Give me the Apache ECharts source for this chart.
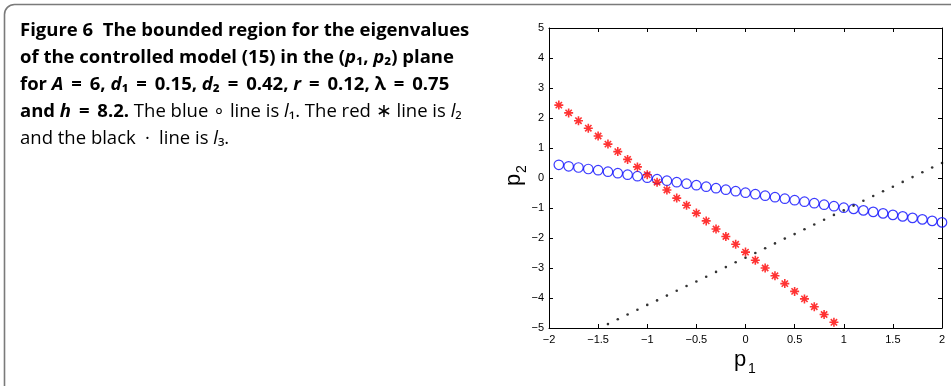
<!DOCTYPE html>
<html><head><meta charset="utf-8">
<script src="https://cdn.jsdelivr.net/npm/echarts@6/dist/echarts.min.js"></script>
<style>html,body{margin:0;padding:0;background:#fff}#c{width:951px;height:386px}</style>
</head><body><div id="c"></div>
<script>
// ---- data ----
const blueX = [-1.9,-1.8,-1.7,-1.6,-1.5,-1.4,-1.3,-1.2,-1.1,-1.0,-0.9,-0.8,-0.7,-0.6,-0.5,-0.4,-0.3,-0.2,-0.1,0,0.1,0.2,0.3,0.4,0.5,0.6,0.7,0.8,0.9,1.0,1.1,1.2,1.3,1.4,1.5,1.6,1.7,1.8,1.9,2.0];
const blueY = [0.44,0.39,0.35,0.30,0.26,0.21,0.16,0.11,0.06,0.01,-0.04,-0.09,-0.14,-0.19,-0.24,-0.29,-0.34,-0.39,-0.44,-0.49,-0.54,-0.59,-0.64,-0.69,-0.74,-0.79,-0.84,-0.89,-0.94,-0.99,-1.03,-1.08,-1.13,-1.18,-1.23,-1.28,-1.33,-1.38,-1.43,-1.48];
const redX = [-1.9,-1.8,-1.7,-1.6,-1.5,-1.4,-1.3,-1.2,-1.1,-1.0,-0.9,-0.8,-0.7,-0.6,-0.5,-0.4,-0.3,-0.2,-0.1,0,0.1,0.2,0.3,0.4,0.5,0.6,0.7,0.8,0.9];
const redY = [2.43,2.17,1.91,1.66,1.40,1.13,0.88,0.62,0.37,0.11,-0.14,-0.40,-0.67,-0.91,-1.17,-1.43,-1.70,-1.95,-2.21,-2.47,-2.74,-3.00,-3.26,-3.52,-3.78,-4.03,-4.29,-4.55,-4.81];
const blackX = [-1.4,-1.3,-1.2,-1.1,-1.0,-0.9,-0.8,-0.7,-0.6,-0.5,-0.4,-0.3,-0.2,-0.1,0,0.1,0.2,0.3,0.4,0.5,0.6,0.7,0.8,0.9,1.0,1.1,1.2,1.3,1.4,1.5,1.6,1.7,1.8,1.9,2.0];
const blackY = [-4.87,-4.71,-4.55,-4.39,-4.23,-4.08,-3.92,-3.76,-3.60,-3.45,-3.29,-3.13,-2.97,-2.81,-2.66,-2.50,-2.34,-2.18,-2.02,-1.87,-1.71,-1.55,-1.39,-1.23,-1.08,-0.92,-0.76,-0.60,-0.44,-0.29,-0.13,0.03,0.19,0.35,0.50];
const xRange = [-2, 2], xStep = 0.5;
const yRange = [-5, 5], yStep = 1;

const pairs = (xs, ys) => xs.map((x, i) => [x, ys[i]]);
const minus = v => String(v).replace('-', '\u2212');
const TICKFONT = 'Liberation Sans';
const CAPFONT = 'Open Sans';
const capColor = '#231f20';
const FS = 18.5;

const chart = echarts.init(document.getElementById('c'), null, {renderer: 'canvas'});

const capRich = {
  b: {fontFamily: CAPFONT, fontWeight: 'bold', fontSize: FS, color: capColor},
  bi: {fontFamily: CAPFONT, fontWeight: 'bold', fontStyle: 'italic', fontSize: FS, color: capColor},
  n: {fontFamily: CAPFONT, fontSize: FS, color: capColor},
  ni: {fontFamily: CAPFONT, fontStyle: 'italic', fontSize: FS, color: capColor}
};
const EQ = ' \u2009=\u2009 ';
const capLines = [
  '{b|Figure 6  The bounded region for the eigenvalues}',
  '{b|of the controlled model (15) in the (}{bi|p}{b|\u2081, }{bi|p}{b|\u2082) plane}',
  '{b|for }{bi|A}{b|' + EQ + '6, }{bi|d}{b|\u2081' + EQ + '0.15, }{bi|d}{b|\u2082' + EQ + '0.42, }{bi|r}{b|' + EQ + '0.12, \u03bb' + EQ + '0.75}',
  '{b|and }{bi|h}{b|' + EQ + '8.2.}{n| The blue \u2218 line is }{ni|l}{n|\u2081. The red \u2217 line is }{ni|l}{n|\u2082}',
  '{n|and the black\u2002\u00b7\u2002line is }{ni|l}{n|\u2083.}'
];
const capY = [31, 58, 85, 112, 139];
const graphics = [
  {type: 'rect', shape: {x: 4.5, y: 4.5, width: 1200, height: 1200, r: [10, 0, 0, 0]},
   style: {fill: 'none', stroke: '#7a7a7a', lineWidth: 1.6}, silent: true}
];
capLines.forEach((t, i) => graphics.push({
  type: 'text', x: 20, y: capY[i],
  style: {text: t, rich: capRich, verticalAlign: 'middle', align: 'left'}
}));
// axis titles
graphics.push({type: 'text', x: 740, y: 360, style: {text: 'p', fontFamily: TICKFONT, fontSize: 22, fill: '#000', align: 'center', verticalAlign: 'middle'}});
graphics.push({type: 'text', x: 752, y: 369, style: {text: '1', fontFamily: TICKFONT, fontSize: 14, fill: '#000', align: 'center', verticalAlign: 'middle'}});
graphics.push({type: 'group', x: 514, y: 180, rotation: Math.PI / 2, children: [
  {type: 'text', x: 0, y: 0, style: {text: 'p', fontFamily: TICKFONT, fontSize: 22, fill: '#000', align: 'center', verticalAlign: 'middle'}},
  {type: 'text', x: 11, y: 8, style: {text: '2', fontFamily: TICKFONT, fontSize: 14, fill: '#000', align: 'center', verticalAlign: 'middle'}}
]});

const starPath = 'path://M0,5L10,5M5,0L5,10M1.5,1.5L8.5,8.5M8.5,1.5L1.5,8.5';

const baseAxis = {
  axisLine: {show: true, onZero: false, lineStyle: {color: '#000', width: 1}},
  axisTick: {show: true, inside: true, length: 4, lineStyle: {color: '#000'}},
  splitLine: {show: false}
};

chart.setOption({
  animation: false,
  backgroundColor: '#fff',
  grid: {left: 549, right: 9, top: 28, bottom: 58, containLabel: false},
  xAxis: [
    Object.assign({}, baseAxis, {type: 'value', position: 'bottom', min: xRange[0], max: xRange[1], interval: xStep,
      axisLabel: {color: '#000', fontFamily: TICKFONT, fontSize: 11, margin: 6, formatter: minus, showMinLabel: true, showMaxLabel: true}}),
    Object.assign({}, baseAxis, {type: 'value', position: 'top', min: xRange[0], max: xRange[1], interval: xStep,
      axisLabel: {show: false}})
  ],
  yAxis: [
    Object.assign({}, baseAxis, {type: 'value', position: 'left', min: yRange[0], max: yRange[1], interval: yStep,
      axisLabel: {color: '#000', fontFamily: TICKFONT, fontSize: 11, margin: 5, formatter: minus, showMinLabel: true, showMaxLabel: true}}),
    Object.assign({}, baseAxis, {type: 'value', position: 'right', min: yRange[0], max: yRange[1], interval: yStep,
      axisLabel: {show: false}})
  ],
  series: [
    {type: 'scatter', data: pairs(blueX, blueY), symbol: 'circle', symbolSize: 9.5,
     itemStyle: {color: 'transparent', borderColor: '#0a0aff', borderWidth: 1.2}, clip: false},
    {type: 'scatter', data: pairs(redX, redY), symbol: starPath, symbolSize: 9,
     itemStyle: {color: 'transparent', borderColor: '#ff0000', borderWidth: 1.6}, clip: false},
    {type: 'scatter', data: pairs(blackX, blackY), symbol: 'circle', symbolSize: 2.6,
     itemStyle: {color: '#000'}, clip: false}
  ],
  graphic: graphics
});
</script></body></html>
